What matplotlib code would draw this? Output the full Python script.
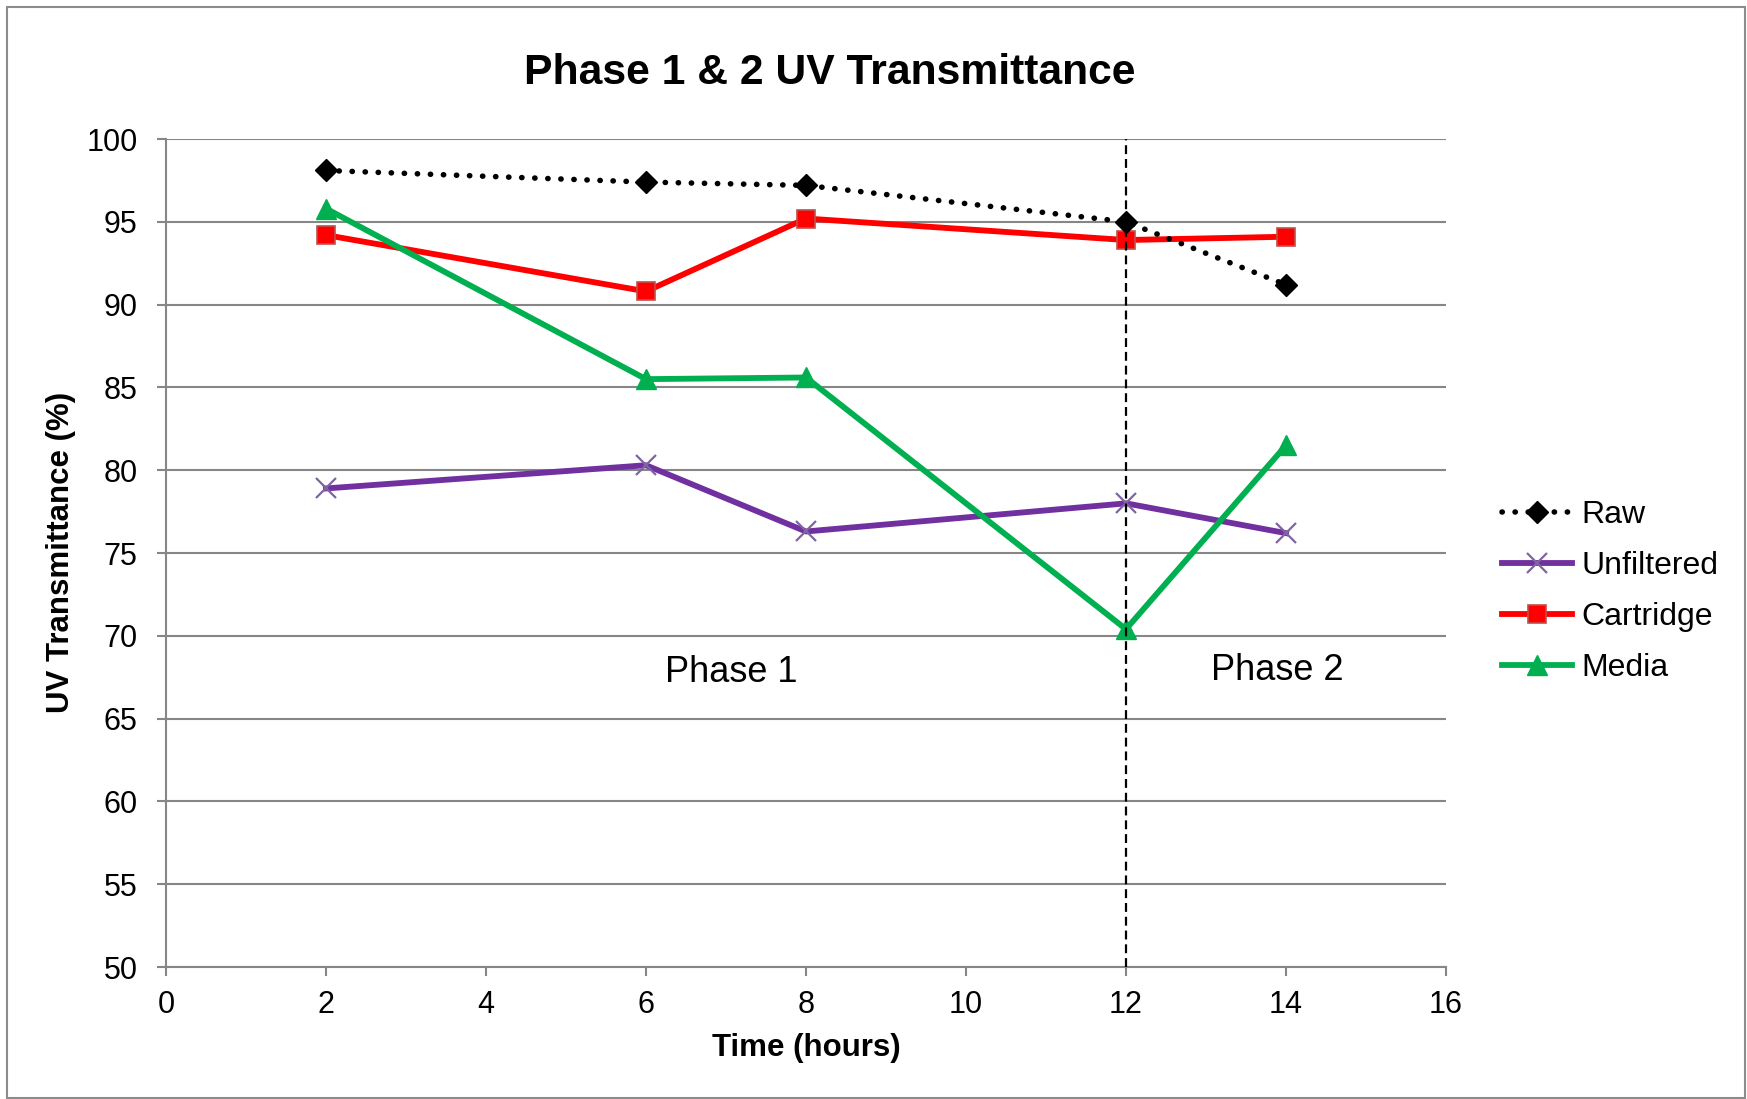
# Phase 1 & 2 UV transmittance plot
import matplotlib

matplotlib.use("Agg")
import matplotlib.pyplot as plt
from matplotlib.patches import Rectangle

plt.rcParams["font.family"] = ["Liberation Sans", "DejaVu Sans"]

hours = [2, 6, 8, 12, 14]
raw = [98.1, 97.4, 97.2, 95.0, 91.2]
unfiltered = [78.9, 80.3, 76.3, 78.0, 76.2]
cartridge = [94.2, 90.8, 95.2, 93.9, 94.1]
media = [95.8, 85.5, 85.6, 70.4, 81.5]

x_ticks = [0, 2, 4, 6, 8, 10, 12, 14, 16]
y_ticks = [50, 55, 60, 65, 70, 75, 80, 85, 90, 95, 100]
phase_split = 12

fig = plt.figure(figsize=(17.47, 10.99), dpi=100)
ax = fig.add_axes([0.0950, 0.1201, 0.7327, 0.7534])

grid_col = "#868686"

ax.plot(hours, raw, color="black", lw=4, linestyle=(0, (0.05, 2.3)),
        dash_capstyle="round", marker="D", markersize=11.5,
        markerfacecolor="black", markeredgecolor="black", label="Raw", zorder=4)
ax.plot(hours, unfiltered, color="#7030A0", lw=4.2, marker="x", markersize=14,
        markeredgecolor="#8064A2", markeredgewidth=1.6, label="Unfiltered", zorder=3)
ax.plot(hours, cartridge, color="#FF0000", lw=4.2, marker="s", markersize=13.5,
        markerfacecolor="#FF0000", markeredgecolor="#C0504D", markeredgewidth=1.2,
        label="Cartridge", zorder=3)
ax.plot(hours, media, color="#00B050", lw=4.2, marker="^", markersize=15,
        markerfacecolor="#00B050", markeredgecolor="#00B050", label="Media", zorder=3)

ax.axvline(phase_split, color="black", lw=1.6, linestyle=(0, (4, 2.2)), zorder=5)

ax.text(7.07, 67.8, "Phase 1", fontsize=26, ha="center", va="center")
ax.text(13.89, 67.9, "Phase 2", fontsize=26, ha="center", va="center")

ax.set_xlim(0, 16)
ax.set_ylim(50, 100)
ax.set_xticks(x_ticks)
ax.set_yticks(y_ticks)
ax.tick_params(axis="both", labelsize=22, color=grid_col, width=1.5, length=6.5,
               direction="out")
ax.tick_params(axis="x", pad=10)
ax.tick_params(axis="y", pad=14)
ax.yaxis.grid(True, color=grid_col, lw=1.5)
ax.set_axisbelow(True)
for side in ["top", "right"]:
    ax.spines[side].set_visible(False)
for side in ["left", "bottom"]:
    ax.spines[side].set_color(grid_col)
    ax.spines[side].set_linewidth(1.5)

fig.text(830 / 1747, 1 - 73.5 / 1099, "Phase 1 & 2 UV Transmittance",
         fontsize=30.7, fontweight="bold", ha="center", va="center")
fig.text(806 / 1747, 1 - 1048 / 1099, "Time (hours)",
         fontsize=22.5, fontweight="bold", ha="center", va="center")
fig.text(61 / 1747, 1 - 552 / 1099, "UV Transmittance (%)", rotation=90,
         fontsize=22.5, fontweight="bold", ha="center", va="center")

fig.legend(loc="center left", bbox_to_anchor=(1502 / 1747, 1 - 591.5 / 1099),
           bbox_transform=fig.transFigure, frameon=False, fontsize=23,
           handlelength=2.2, handletextpad=0.3, labelspacing=0.66,
           borderpad=0, borderaxespad=0)

# chart frame
fig.patches.append(Rectangle((7 / 1747, 1 / 1099), 1738 / 1747, 1091 / 1099,
                             transform=fig.transFigure, fill=False,
                             edgecolor="#8C8C8C", lw=1.5))

fig.savefig("out.png", dpi=100, facecolor="white")
